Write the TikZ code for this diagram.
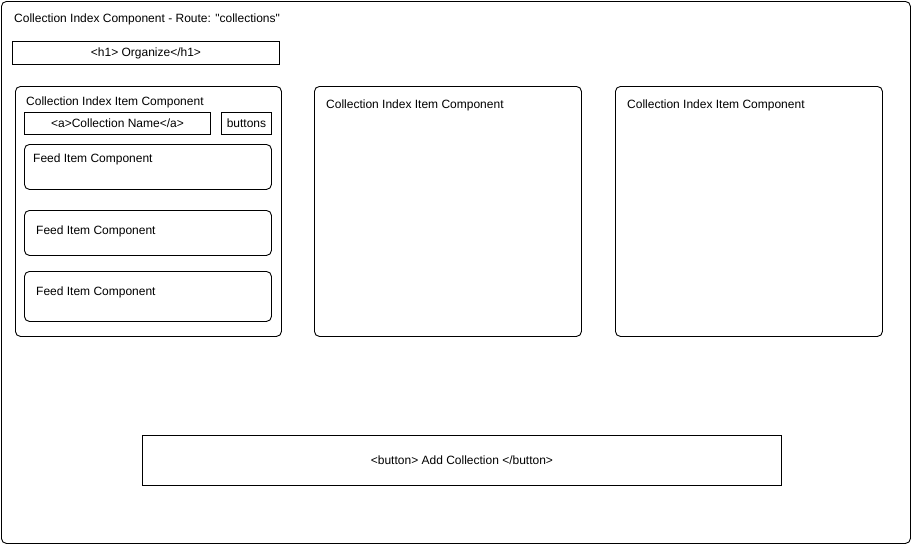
\documentclass[tikz,border=0pt]{standalone}
\usepackage{fontspec}
\setmainfont{Liberation Sans}[Ligatures=TeXOff]
\usetikzlibrary{positioning}

\tikzset{
  box/.style={draw, line width=0.9pt, anchor=north west, inner sep=0pt},
  card/.style={box, rounded corners=5pt},
  lbl/.style={anchor=west, inner sep=0pt, font=\fontsize{12}{14}\selectfont},
  ctr/.style={font=\fontsize{12}{14}\selectfont}
}

\begin{document}
\begin{tikzpicture}[x=1pt, y=-1pt]
  \useasboundingbox (0,0) rectangle (911,544);

  % outer frame
  \node[card, minimum width=909pt, minimum height=542pt] (page) at (1,1) {};
  \node[lbl] (pagelbl) at (14,19) {Collection Index Component - Route: "collections"};

  \node[box, minimum width=267pt, minimum height=23pt, ctr] (h1) at (12,41) {<h1> Organize</h1>};

  % first collection
  \node[card, minimum width=266pt, minimum height=250pt] (coll1) at (15,86) {};
  \node[lbl] (coll1lbl) at (26,102) {Collection Index Item Component};
  \node[box, minimum width=186pt, minimum height=22pt, ctr] (cname) at (24,112) {<a>Collection Name</a>};
  \node[box, minimum width=50pt, minimum height=22pt, ctr] (btns) at (221,112) {buttons};

  \node[card, minimum width=247pt, minimum height=45pt] (feed1) at (24,144) {};
  \node[lbl] (feed1lbl) at (33,159) {Feed Item Component};
  \node[card, minimum width=247pt, minimum height=45pt] (feed2) at (24,210) {};
  \node[lbl] (feed2lbl) at (36,231) {Feed Item Component};
  \node[card, minimum width=247pt, minimum height=50pt] (feed3) at (24,271) {};
  \node[lbl] (feed3lbl) at (36,292) {Feed Item Component};

  % other collections
  \node[card, minimum width=267pt, minimum height=250pt] (coll2) at (314,86) {};
  \node[lbl] (coll2lbl) at (326,105) {Collection Index Item Component};
  \node[card, minimum width=267pt, minimum height=250pt] (coll3) at (615,86) {};
  \node[lbl] (coll3lbl) at (627,105) {Collection Index Item Component};

  \node[box, minimum width=639pt, minimum height=50pt, ctr] (addbtn) at (142,435) {<button> Add Collection </button>};
\end{tikzpicture}
\end{document}
